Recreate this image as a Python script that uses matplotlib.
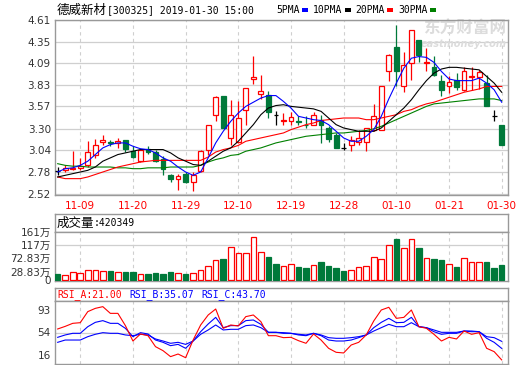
import numpy as np
import matplotlib
matplotlib.use('Agg')
import matplotlib.pyplot as plt
from matplotlib.patches import Rectangle

plt.rcParams['font.family'] = ['DejaVu Sans', 'Noto Sans CJK SC']

# daily K-line, 60 trading days up to 2019-01-30
opens  = [2.79,2.80,2.82,2.83,2.86,2.99,3.14,3.14,3.13,3.16,3.03,2.91,3.06,3.02,2.94,2.74,2.69,2.75,2.66,2.79,
          3.05,3.47,3.69,3.19,3.14,3.53,3.90,3.72,3.71,3.47,3.39,3.39,3.39,3.35,3.35,3.40,3.31,3.23,3.07,3.11,
          3.14,3.14,3.29,3.29,3.99,4.29,3.81,4.09,4.37,4.09,4.05,3.88,3.81,3.89,3.77,3.92,3.92,3.85,3.45,3.35]
highs  = [2.84,2.86,3.03,2.95,3.15,3.18,3.22,3.17,3.19,3.17,3.09,3.05,3.09,3.05,2.97,2.75,2.75,2.78,2.78,3.05,
          3.35,3.69,3.70,3.65,3.64,3.79,4.18,3.95,3.75,3.51,3.49,3.50,3.45,3.45,3.50,3.47,3.33,3.25,3.13,3.21,
          3.29,3.31,3.60,3.82,4.20,4.55,4.22,4.49,4.37,4.27,4.18,3.95,3.94,3.97,4.05,4.05,4.01,3.95,3.53,3.35]
lows   = [2.74,2.78,2.80,2.80,2.84,2.95,3.10,3.09,3.07,3.02,2.95,2.90,3.00,2.90,2.74,2.66,2.56,2.65,2.55,2.78,
          2.99,3.39,3.31,3.11,3.13,3.35,3.84,3.66,3.43,3.35,3.35,3.35,3.35,3.31,3.34,3.13,3.14,3.07,3.05,3.03,
          3.11,3.03,3.27,3.28,3.87,3.82,3.74,3.89,4.11,4.00,3.93,3.70,3.73,3.77,3.76,3.77,3.78,3.58,3.39,3.10]
closes = [2.79,2.83,2.83,2.85,3.02,3.11,3.17,3.13,3.15,3.06,2.96,3.04,3.02,2.91,2.82,2.70,2.73,2.66,2.74,3.03,
          3.34,3.68,3.31,3.47,3.43,3.79,3.92,3.76,3.50,3.47,3.41,3.44,3.38,3.34,3.47,3.35,3.18,3.07,3.07,3.16,
          3.19,3.31,3.45,3.81,4.19,4.00,4.07,4.49,4.19,4.11,3.95,3.77,3.86,3.80,4.00,3.93,3.98,3.58,3.45,3.10]

ma5  = [2.78,2.82,2.83,2.86,2.91,2.99,3.07,3.11,3.13,3.13,3.09,3.06,3.05,3.01,2.95,2.91,2.84,2.78,2.74,2.78,
        2.95,3.13,3.27,3.39,3.49,3.57,3.62,3.67,3.70,3.70,3.63,3.55,3.45,3.43,3.41,3.40,3.35,3.27,3.19,3.15,
        3.15,3.21,3.29,3.45,3.66,3.85,4.03,4.15,4.17,4.16,4.10,3.99,3.90,3.88,3.88,3.88,3.91,3.85,3.77,3.62]
ma10 = [2.72,2.74,2.76,2.78,2.80,2.84,2.91,2.95,2.99,3.01,3.03,3.05,3.05,3.05,3.05,3.01,2.95,2.91,2.87,2.86,
        2.91,2.97,3.03,3.07,3.15,3.25,3.35,3.47,3.55,3.58,3.59,3.57,3.56,3.55,3.54,3.51,3.43,3.35,3.31,3.29,
        3.27,3.27,3.27,3.31,3.39,3.47,3.55,3.65,3.77,3.88,3.97,4.02,4.04,4.04,4.03,4.02,4.01,3.93,3.85,3.74]
ma20 = [2.72,2.70,2.70,2.70,2.72,2.75,2.78,2.81,2.84,2.86,2.88,2.90,2.91,2.92,2.92,2.92,2.92,2.92,2.92,2.92,
        2.96,3.02,3.05,3.07,3.10,3.15,3.17,3.19,3.21,3.23,3.25,3.29,3.32,3.35,3.37,3.40,3.41,3.42,3.43,3.43,
        3.43,3.41,3.41,3.43,3.45,3.47,3.51,3.53,3.57,3.60,3.62,3.65,3.68,3.71,3.74,3.76,3.78,3.81,3.81,3.81]
ma30 = [2.88,2.86,2.85,2.85,2.84,2.84,2.84,2.84,2.83,2.83,2.82,2.82,2.83,2.83,2.83,2.84,2.84,2.84,2.84,2.86,
        2.90,2.93,2.95,2.98,2.99,3.03,3.05,3.07,3.10,3.13,3.15,3.17,3.19,3.21,3.22,3.23,3.24,3.25,3.25,3.26,
        3.27,3.28,3.30,3.33,3.37,3.41,3.45,3.49,3.53,3.57,3.60,3.61,3.62,3.63,3.64,3.65,3.66,3.66,3.66,3.64]

# volume in 万
volume = [20,18,26,22.5,33,33,29,30,26,27,27,19,20,24,20,27,22.5,20,24,33,
          46,66,71,110,90,90,144,93,77,54,46,53,44,41,50,60,47,41,30,33,
          43,46,77,70,117,138,107,137,107,73,71,68,53,44,73,61,61,61,41,51]

rsi_a = [58.8,62.0,65.7,66.5,80.0,84.0,86.1,77.9,77.9,62.9,44.1,52.7,50.6,37.2,32.3,25.0,28.2,23.7,45.3,63.7,
         75.9,83.2,59.6,63.7,62.5,73.9,75.9,67.8,50.6,50.6,48.2,48.6,44.5,41.3,52.7,45.3,35.2,30.3,29.5,39.2,
         42.5,51.5,68.6,82.0,85.3,71.8,73.0,82.0,61.6,59.6,52.3,44.1,48.6,46.6,56.3,52.3,54.3,35.2,31.1,21.0]
rsi_b = [48.6,51.5,53.5,53.5,61.6,66.9,69.0,65.7,65.7,59.6,49.4,54.3,52.7,45.3,42.5,38.4,40.0,35.2,44.1,55.5,
         64.9,73.0,60.4,62.9,62.9,69.0,69.8,64.5,54.7,54.7,53.5,53.5,51.5,50.6,53.5,50.6,45.3,44.1,44.1,45.3,
         48.2,51.5,60.4,66.9,71.8,66.5,66.9,73.0,61.6,60.4,55.5,52.3,53.5,53.5,56.3,55.5,55.5,47.4,42.5,35.07]
rsi_c = [42.5,45.3,45.3,45.3,49.4,52.3,54.3,53.5,53.5,51.5,50.6,52.3,51.5,46.6,44.1,41.3,42.5,40.0,44.1,52.3,
         57.6,63.7,57.6,58.4,58.4,62.9,63.7,60.4,54.7,54.7,54.3,53.5,52.3,51.5,53.5,51.5,48.2,47.4,47.4,48.2,
         49.4,51.5,56.3,60.4,64.5,61.6,61.6,66.5,61.6,60.4,57.6,54.7,54.7,54.7,56.3,56.3,55.5,49.4,48.2,43.7]

date_pos = [4, 11, 18, 25, 32, 39, 46, 53, 60]
date_labels = ['11-09', '11-20', '11-29', '12-10', '12-19', '12-28', '01-10', '01-21', '01-30']
price_ticks = [4.61, 4.35, 4.09, 3.83, 3.57, 3.30, 3.04, 2.78, 2.52]
vol_ticks = [161, 117, 72.83, 28.83, 0]
vol_tick_labels = ['161万', '117万', '72.83万', '28.83万', '0']
rsi_ticks = [93, 54, 16]

RED = '#ff0000'
GREEN = '#00793a'
FRAME = '#999999'
GRID = '#cfcfcf'
MONO = ['DejaVu Sans Mono', 'Noto Sans CJK SC']
CJK = ['Noto Sans CJK SC', 'DejaVu Sans']

W, H = 520, 365
fig = plt.figure(figsize=(W/100, H/100), dpi=100)

def add_ax(x0, y0, x1, y1):
    return fig.add_axes([x0/W, 1 - y1/H, (x1 - x0)/W, (y1 - y0)/H])

def ftext(x, y, s, **kw):
    fig.text(x/W, 1 - y/H, s, va='center', **kw)

def style(ax):
    for sp in ax.spines.values():
        sp.set_color(FRAME)
        sp.set_linewidth(1.0)
    ax.tick_params(length=0, labelsize=7.5, labelcolor='#333333', pad=3)

x = np.arange(1, 61)
xl = (0.645, 60.84)

# ---- price panel
ax = add_ax(55, 20, 508, 195)
style(ax)
w = 0.64
for i in range(60):
    o, h, l, c = opens[i], highs[i], lows[i], closes[i]
    xi = x[i]
    if c > o:
        ax.add_patch(Rectangle((xi - w/2, o), w, c - o, facecolor='white', edgecolor=RED, lw=0.9, zorder=3))
        ax.vlines(xi, c, h, color=RED, lw=0.9, zorder=3)
        ax.vlines(xi, l, o, color=RED, lw=0.9, zorder=3)
    elif c < o:
        ax.vlines(xi, l, h, color=GREEN, lw=0.9, zorder=3)
        ax.add_patch(Rectangle((xi - w/2, c), w, o - c, facecolor=GREEN, edgecolor=GREEN, lw=0.9, zorder=3))
    else:
        ax.vlines(xi, l, h, color='black', lw=0.9, zorder=3)
        ax.hlines(o, xi - w/2, xi + w/2, color='black', lw=0.9, zorder=3)

ax.plot(x, ma30, color='#008000', lw=0.8, zorder=4)
ax.plot(x, ma20, color=RED, lw=0.8, zorder=4)
ax.plot(x, ma10, color='black', lw=0.8, zorder=4)
ax.plot(x, ma5, color='#0000ff', lw=0.8, zorder=4)

ax.set_xlim(*xl)
ax.set_ylim(2.503, 4.61)
ax.set_yticks(price_ticks)
ax.set_yticklabels(['%.2f' % t for t in price_ticks])
ax.set_xticks(date_pos)
ax.set_xticklabels(date_labels, color=RED, fontsize=7.5)
ax.tick_params(axis='x', labelcolor=RED, pad=4)
ax.grid(axis='y', color=GRID, lw=0.9)
ax.grid(axis='x', color=GRID, lw=0.8, linestyle=(0, (3, 3)))
ax.set_axisbelow(True)

ax.text(0.997, 0.95, '东方财富网', transform=ax.transAxes, ha='right', va='center',
        family=CJK, fontsize=12, fontweight='bold', color='#dcdcdc', zorder=1)
ax.text(0.997, 0.865, 'eastmoney.com', transform=ax.transAxes, ha='right', va='center',
        fontsize=7, fontweight='bold', style='italic', color='#dcdcdc', zorder=1)

# title and legend
ftext(57, 10, '德威新材', family=CJK, fontsize=9)
ftext(107, 10, '[300325] 2019-01-30 15:00', family=MONO, fontsize=7)
legend = [('5PMA', 276, '#0000ff'), ('10PMA', 313, 'black'), ('20PMA', 355, RED), ('30PMA', 398, '#008000')]
for lab, lx, col in legend:
    ftext(lx, 10, lab, family=MONO, fontsize=7)
    fig.add_artist(Rectangle(((lx + len(lab)*5.85 + 3)/W, 1 - 12/H), 5.5/W, 3.5/H,
                             facecolor=col, edgecolor='none', transform=fig.transFigure))

# ---- volume panel
hv = add_ax(55, 214, 508, 232)
style(hv)
hv.set_xticks([]); hv.set_yticks([])
ftext(57, 223, '成交量', family=CJK, fontsize=9)
ftext(94, 223, ':420349', family=MONO, fontsize=7)

av = add_ax(55, 232, 508, 281)
style(av)
vcol = [RED if closes[i] > opens[i] else GREEN for i in range(60)]
vface = ['white' if c == RED else GREEN for c in vcol]
av.bar(x, volume, width=0.74, color=vface, edgecolor=vcol, lw=0.9, zorder=3)
av.set_xlim(*xl)
av.set_ylim(-3.3, 161)
av.set_yticks(vol_ticks)
av.set_yticklabels(vol_tick_labels, fontsize=7.5)
av.set_xticks(date_pos)
av.set_xticklabels([])
av.grid(axis='x', color=GRID, lw=0.8, linestyle=(0, (3, 3)))
av.axhline(117, color=GRID, lw=0.9, zorder=0)

# ---- RSI panel
hr = add_ax(55, 288, 508, 301)
style(hr)
hr.set_xticks([]); hr.set_yticks([])
ftext(57, 294.5, 'RSI_A:21.00', family=MONO, fontsize=7, color=RED)
ftext(129, 294.5, 'RSI_B:35.07', family=MONO, fontsize=7, color='#0000ff')
ftext(201, 294.5, 'RSI_C:43.70', family=MONO, fontsize=7, color='#0000ff')

ar = add_ax(55, 301, 508, 364)
style(ar)
ar.plot(x, rsi_c, color='#0000ff', lw=0.8)
ar.plot(x, rsi_b, color='#0000ff', lw=0.8)
ar.plot(x, rsi_a, color=RED, lw=0.8)
ar.set_xlim(*xl)
ar.set_ylim(16, 93)
ar.set_yticks([])
# scale labels sit inside the panel's top and bottom edges
for t, dy in zip(rsi_ticks, [-7.5, 0, 6]):
    ar.annotate(str(t), xy=(0, t), xycoords=('axes fraction', 'data'), xytext=(-3, dy),
                textcoords='offset points', ha='right', va='center', fontsize=7.5, color='#333333')
ar.set_xticks(date_pos)
ar.set_xticklabels([])
ar.grid(axis='x', color=GRID, lw=0.8, linestyle=(0, (3, 3)))
ar.axhline(54, color=GRID, lw=0.9, zorder=0)

fig.savefig('out.png', dpi=100)
